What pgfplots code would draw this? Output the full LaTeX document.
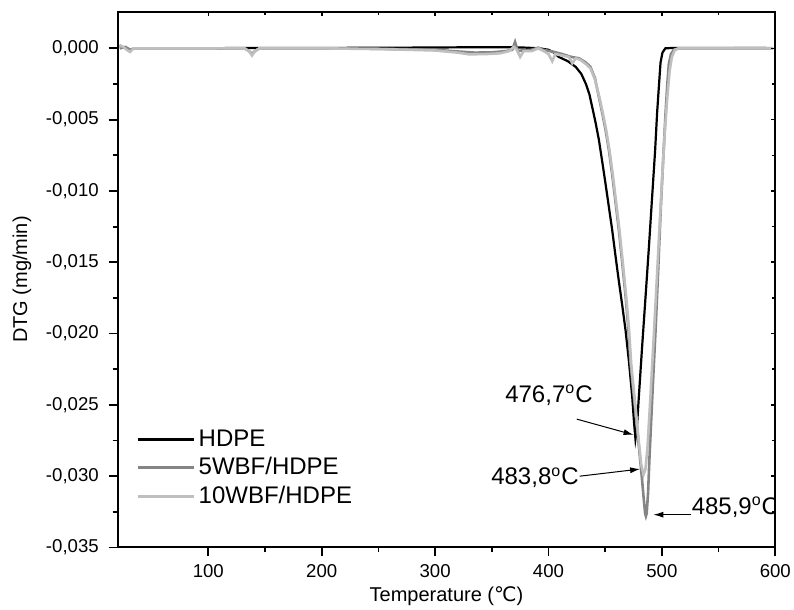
\documentclass[border=0pt]{standalone}
\usepackage{pgfplots}
\pgfplotsset{compat=1.18}
\usepackage{fontspec}
\setmainfont{Liberation Sans}
\newfontfamily\dejavu{DejaVu Sans}
\usetikzlibrary{arrows.meta}
\definecolor{gmid}{HTML}{858585}
\definecolor{glight}{HTML}{BFBFBF}
\begin{document}
\begin{tikzpicture}
\path[use as bounding box] (-58.8pt,-31.25pt) rectangle (338.2pt,273.75pt);
\begin{axis}[
  at={(0pt,0pt)}, anchor=south west,
  scale only axis, width=328.85pt, height=267.9pt,
  xmin=20, xmax=600, ymin=-0.035, ymax=0.00257,
  xtick={100,200,300,400,500,600}, minor x tick num=1,
  ytick={-0.035,-0.03,-0.025,-0.02,-0.015,-0.01,-0.005,0}, minor y tick num=1,
  scaled y ticks=false, scaled x ticks=false,
  xtick pos=left, ytick pos=left, tick align=outside,
  major tick length=4.5pt, minor tick length=2.5pt,
  axis line style={line width=1pt},
  every tick/.style={line width=0.9pt, black},
  tick label style={font=\fontsize{9.3}{10}\selectfont},
  yticklabel style={/pgf/number format/.cd, fixed, fixed zerofill, precision=3, use comma, assume math mode=true},
  xticklabel style={/pgf/number format/.cd, assume math mode=true, 1000 sep={}},
  yticklabel shift=1.4pt, xticklabel shift=0.5pt,
  xlabel={Temperature ({\dejavu ℃})}, ylabel={DTG (mg/min)},
  label style={font=\fontsize{12.5}{14}\selectfont},
  every axis x label/.style={at={(axis description cs:0.5,-0.091)}, anchor=center},
  every axis y label/.style={at={(axis description cs:-0.1454,0.5)}, rotate=90, anchor=center},
  no markers,
  legend style={draw=none, fill=none, at={(axis description cs:0.029,0.148)}, anchor=west,
    inner sep=0pt, row sep=1.2pt, font=\fontsize{12}{14}\selectfont, nodes={inner sep=1.5pt}},
  legend cell align=left,
  legend image code/.code={\draw[#1] (0pt,0pt) -- (28pt,0pt);},
]
\addplot[black, line width=1.1pt] coordinates {
(107,0.0000) (120,0.00003) (150,0.00002) (200,0.00003) (250,0.00004) (300,0.00006) (340,0.00008) (365,0.00008) (380,0.00005) (392,0.0000) (400,-0.0001) (405,-0.0003) (409,-0.0006) (417,-0.0009) (424,-0.0013) (429,-0.0018) (433,-0.0025) (436,-0.0032) (438.5,-0.0041) (441.5,-0.0052) (444.4,-0.0064) (447.3,-0.0079) (450.3,-0.0095) (453.2,-0.0111) (456.1,-0.0127) (459,-0.0145) (462,-0.0163) (465,-0.0180) (468,-0.0198) (471,-0.0220) (473.8,-0.0244) (475.4,-0.0262) (476.7,-0.0274) (477.8,-0.0268) (479.7,-0.0244) (482.5,-0.0210) (485.6,-0.0174) (488.5,-0.0140) (491.4,-0.0104) (494,-0.0072) (495.8,-0.0045) (497.5,-0.0025) (498.8,-0.0010) (500.5,-0.0003) (503,0.0) (510,0.00003) (550,0.00003) (592,0.00002)
};
\addlegendentry{HDPE}
\addplot[gmid, line width=1.3pt] coordinates {
(22,0.0000) (27,0.0001) (31,-0.0001) (35,0.0) (60,0.0) (100,0.0) (132,0.0) (136,-0.0002) (138.5,-0.0004) (141,-0.0002) (145,0.0) (200,0.0) (250,-0.00003) (300,-0.0001) (320,-0.00022) (335,-0.0003) (350,-0.00028) (362,-0.0002) (368,-0.0001) (370.5,0.00045) (373,-0.0002) (376,-0.00015) (385,-0.0001) (391,0.00005) (395,-0.0001) (405,-0.00025) (412,-0.0004) (420,-0.0006) (427,-0.0007) (433,-0.0010) (437,-0.0013) (441,-0.0021) (444.4,-0.0034) (447.3,-0.0045) (450.3,-0.0057) (453.2,-0.0071) (456.1,-0.0088) (459,-0.0107) (462,-0.0127) (465,-0.0150) (468,-0.0174) (470.5,-0.0197) (472.4,-0.0221) (474.5,-0.0238) (476.8,-0.0256) (479.7,-0.0279) (482,-0.0298) (484,-0.0316) (485.2,-0.0326) (485.9,-0.0328) (486.6,-0.0326) (487.8,-0.0312) (489,-0.0288) (490.5,-0.0262) (492.4,-0.0230) (494.4,-0.0198) (496.6,-0.0158) (498.8,-0.0116) (501,-0.0080) (503.2,-0.0046) (504.8,-0.0025) (506.1,-0.0011) (508,-0.0004) (510.5,-0.0001) (515,0.0) (550,0.0) (598,0.00001)
};
\addlegendentry{5WBF/HDPE}
\addplot[glight, line width=1.3pt] coordinates {
(20,0.0000) (22.5,0.0002) (25,0.0001) (28,-0.0001) (31,-0.00025) (34,0.0) (60,0.0) (100,0.0) (132,0.0) (136,-0.0002) (138.5,-0.0005) (141,-0.0002) (145,0.0) (200,0.0) (250,-0.00005) (300,-0.00015) (320,-0.0003) (330,-0.00042) (345,-0.0004) (357,-0.00035) (365,-0.0002) (369.5,0.0001) (372,-0.0001) (375,-0.0006) (378,-0.0002) (385,-0.0002) (391,0.0) (396,-0.0002) (400,-0.0004) (403.3,-0.0009) (406,-0.0004) (412,-0.0005) (418,-0.0006) (421,-0.00105) (424,-0.0007) (428,-0.0008) (433,-0.0011) (437,-0.0014) (441,-0.0022) (444.8,-0.0034) (447.8,-0.0045) (450.8,-0.0057) (453.7,-0.0071) (456.6,-0.0088) (459.5,-0.0107) (462.5,-0.0127) (465.5,-0.0150) (468.5,-0.0174) (471,-0.0197) (472.9,-0.0221) (475,-0.0238) (477.3,-0.0256) (479.9,-0.0278) (481.8,-0.0292) (483.8,-0.0299) (485.5,-0.0295) (487.3,-0.0280) (489.5,-0.0250) (492,-0.0214) (494.6,-0.0176) (497.2,-0.0136) (499.8,-0.0097) (502.3,-0.0062) (504.8,-0.0034) (506.8,-0.0016) (508.8,-0.0006) (511.5,-0.0001) (515,0.0) (550,0.0) (598,0.0)
};
\addlegendentry{10WBF/HDPE}
\begin{scope}[font=\fontsize{12}{14}\selectfont]
\node[anchor=center, inner sep=0pt] at (axis cs:400.4,-0.0243) {476,7\textsuperscript{o}C};
\draw[line width=0.5pt, -{Latex[length=5pt,width=3pt]}] (axis cs:425,-0.0260) -- (axis cs:475,-0.0271);
\node[anchor=east, inner sep=0pt] at (axis cs:426.9,-0.0301) {483,8\textsuperscript{o}C};
\draw[line width=0.5pt, -{Latex[length=5pt,width=3pt]}] (axis cs:427.5,-0.0300) -- (axis cs:480.8,-0.0295);
\node[anchor=west, inner sep=0pt] at (axis cs:526,-0.0322) {485,9\textsuperscript{o}C};
\draw[line width=0.5pt, -{Latex[length=5pt,width=3pt]}] (axis cs:526,-0.0327) -- (axis cs:492.5,-0.0327);
\end{scope}
\end{axis}
\begin{axis}[
  at={(0pt,0pt)}, anchor=south west,
  scale only axis, width=328.85pt, height=267.9pt,
  xmin=20, xmax=600, ymin=-0.035, ymax=0.00257,
  xtick={100,200,300,400,500,600}, minor x tick num=1,
  ytick={-0.035,-0.03,-0.025,-0.02,-0.015,-0.01,-0.005,0}, minor y tick num=1,
  scaled y ticks=false, scaled x ticks=false,
  xtick pos=right, ytick pos=right, tick align=inside,
  xticklabels={}, yticklabels={},
  major tick length=2pt, minor tick length=1.5pt,
  axis line style={line width=1pt},
  every tick/.style={line width=0.8pt, black},
]
\end{axis}
\end{tikzpicture}
\end{document}
